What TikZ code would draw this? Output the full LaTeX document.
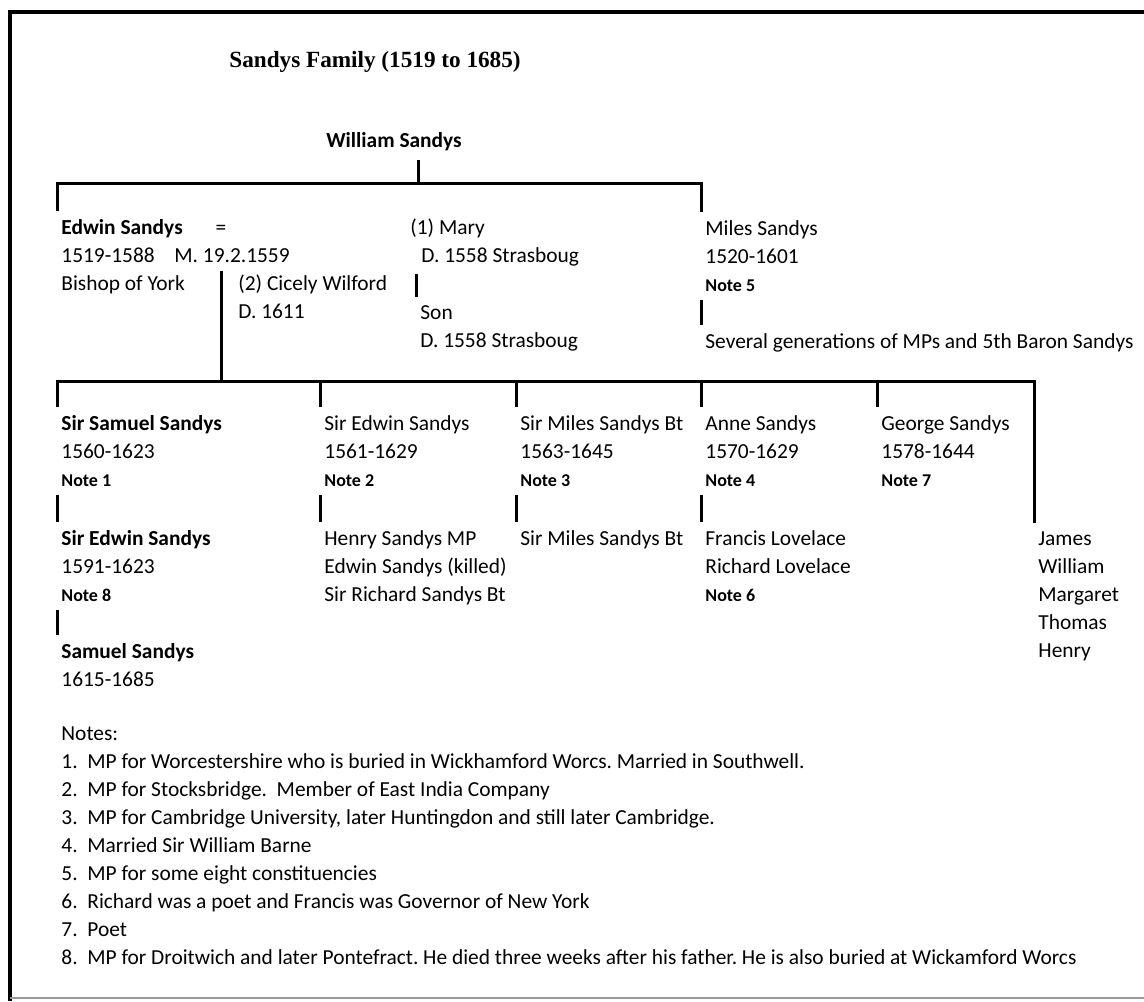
\documentclass[tikz,border=0pt]{standalone}
\usepackage{fontspec}
\setmainfont{Carlito}
\newfontfamily\titlefont{Liberation Serif}
\usetikzlibrary{calc}
\frenchspacing

\newcommand{\nt}[1]{{\fontsize{9}{14}\selectfont\bfseries #1}}
\newcommand{\nitem}[1]{\makebox[13pt][l]{#1}}

\begin{document}
\begin{tikzpicture}[x=0.5pt,y=-0.5pt,
	every node/.style={font=\fontsize{10.7}{14}\selectfont,inner xsep=2pt,inner ysep=4pt},
	person/.style={anchor=north west,align=left},
	line/.style={line width=1.5pt}]

\useasboundingbox (0,0) rectangle (1144,1001);
\fill [white] (0,0) rectangle (1144,1001);

\draw [line width=1.8pt] (1144,12) -- (10,12) -- (10,1001);
\draw [black!40,line width=0.6pt] (10,998) -- (1144,998);

\node (title) at (375,62) {\titlefont\fontsize{11.6}{14}\selectfont\bfseries Sandys Family (1519 to 1685)};

\node (william) at (394,142) {\textbf{William Sandys}};

\coordinate (b1) at (418,183);
\coordinate (b1l) at (57,183);
\coordinate (b1r) at (701,183);
\coordinate (b2l) at (57,381);
\coordinate (b2r) at (1034,381);

\node [person] (edwin) at (57,211) {\textbf{Edwin Sandys}\\1519-1588\\Bishop of York};
\node [anchor=base] (eq) at (221,234) {=};
\node [anchor=base west] (marr) at (170,262) {M. 19.2.1559};
\node [person] (cicely) at (234,266) {(2) Cicely Wilford\\D. 1611};
\node [person] (mary) at (406,210) {(1) Mary\\\hspace*{5.5pt}D. 1558 Strasboug};
\node [person] (son) at (416,297) {Son\\D. 1558 Strasboug};
\node [person] (miles) at (701,212) {Miles Sandys\\1520-1601\\\nt{Note 5}};
\node [person] (several) at (701,325) {Several generations of MPs and 5th Baron Sandys};

\draw [line] (b1 |- william.south) -- (b1);
\draw [line] (edwin.north west) -- (b1l) -- (b1r) -- (miles.north west);
\draw [line] (son.north west |- mary.south) -- (son.north west);
\draw [line] (miles.south west) -- (several.north west);
\draw [line] (eq |- marr.south) -- (eq |- b2l);

\node [person] (samuel) at (57,407) {\textbf{Sir Samuel Sandys}\\1560-1623\\\nt{Note 1}};
\node [person] (edwinb) at (57,522) {\textbf{Sir Edwin Sandys}\\1591-1623\\\nt{Note 8}};
\node [person] (samuelb) at (57,635) {\textbf{Samuel Sandys}\\1615-1685};
\node [person] (edwinc) at (320,407) {Sir Edwin Sandys\\1561-1629\\\nt{Note 2}};
\node [person] (henry) at (320,522) {Henry Sandys MP\\Edwin Sandys (killed)\\Sir Richard Sandys Bt};
\node [person] (milesb) at (516,407) {Sir Miles Sandys Bt\\1563-1645\\\nt{Note 3}};
\node [person] (milesc) at (516,522) {Sir Miles Sandys Bt};
\node [person] (anne) at (701,407) {Anne Sandys\\1570-1629\\\nt{Note 4}};
\node [person] (francis) at (701,522) {Francis Lovelace\\Richard Lovelace\\\nt{Note 6}};
\node [person] (george) at (877,407) {George Sandys\\1578-1644\\\nt{Note 7}};
\node [person] (james) at (1034,523) {James\\William\\Margaret\\Thomas\\Henry};

\draw [line] (samuel.north west) -- (b2l) -- (b2r) -- (james.north west);
\foreach \n in {edwinc,milesb,anne,george}
	\draw [line] (\n.north west |- b2l) -- (\n.north west);
\foreach \a/\b in {samuel/edwinb,edwinb/samuelb,edwinc/henry,milesb/milesc,anne/francis}
	\draw [line] (\a.south west) -- (\b.north west);

\node [person] (notes) at (57,718) {Notes:\\
\nitem{1.}MP for Worcestershire who is buried in Wickhamford Worcs. Married in Southwell.\\
\nitem{2.}MP for Stocksbridge.\ \ Member of East India Company\\
\nitem{3.}MP for Cambridge University, later Huntingdon and still later Cambridge.\\
\nitem{4.}Married Sir William Barne\\
\nitem{5.}MP for some eight constituencies\\
\nitem{6.}Richard was a poet and Francis was Governor of New York\\
\nitem{7.}Poet\\
\nitem{8.}MP for Droitwich and later Pontefract. He died three weeks after his father. He is also buried at Wickamford Worcs};

\end{tikzpicture}
\end{document}
